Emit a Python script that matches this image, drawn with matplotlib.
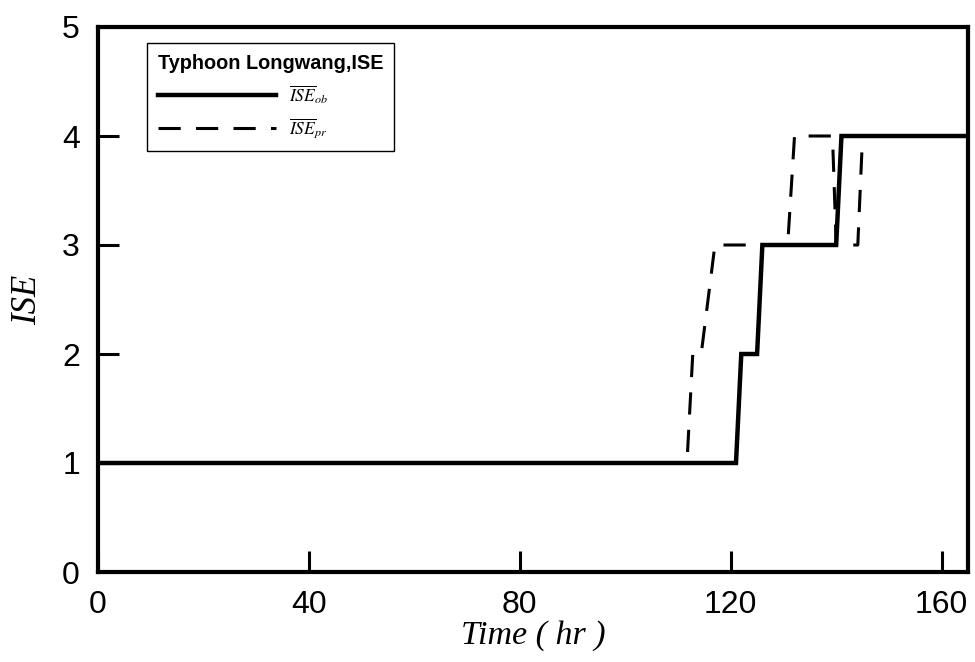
import matplotlib
matplotlib.use("Agg")
import matplotlib.pyplot as plt

# Observed and predicted storm-surge index (ISE) during Typhoon Longwang
time_ob = [0, 121, 122, 125, 126, 140, 141, 165]
ise_ob = [1, 1, 2, 2, 3, 3, 4, 4]

time_pr = [0, 111.7, 112.8, 114.4, 117, 130.8, 132.1, 139.3, 140, 144.1, 145, 165]
ise_pr = [1, 1, 2, 2, 3, 3, 4, 4, 3, 3, 4, 4]

x_ticks = [0, 40, 80, 120, 160]
y_ticks = [0, 1, 2, 3, 4, 5]

legend_title = "Typhoon Longwang,ISE"
label_ob = r"$\overline{ISE}_{ob}$"
label_pr = r"$\overline{ISE}_{pr}$"

plt.rcParams["font.family"] = ["Liberation Sans", "DejaVu Sans"]
plt.rcParams["mathtext.fontset"] = "stix"
plt.rcParams["lines.scale_dashes"] = False

fig = plt.figure(figsize=(9.75, 6.62), dpi=100)
ax = fig.add_axes([98 / 975, 90 / 662, 870 / 975, 545 / 662])

ax.plot(time_pr, ise_pr, color="black", lw=2.2, dashes=(16, 11),
        solid_capstyle="butt", label=label_pr, zorder=2)
ax.plot(time_ob, ise_ob, color="black", lw=3.2, solid_joinstyle="miter",
        label=label_ob, zorder=3)

ax.set_xlim(0, 165)
ax.set_ylim(0, 5)
ax.set_xticks(x_ticks)
ax.set_yticks(y_ticks)

for side in ax.spines.values():
    side.set_linewidth(3)
    side.set_color("black")

ax.tick_params(axis="both", direction="in", length=15, width=2.2,
               colors="black", labelsize=23)
ax.tick_params(axis="x", pad=13)
ax.tick_params(axis="y", pad=13)

ax.set_xlabel("Time ( hr )", family="Liberation Serif", style="italic",
              fontsize=24.5, labelpad=0)
ax.set_ylabel("ISE", family="Liberation Serif", style="italic",
              fontsize=25, labelpad=13)

handles, labels = ax.get_legend_handles_labels()
order = [1, 0]
leg = ax.legend([handles[i] for i in order], [labels[i] for i in order],
                title=legend_title, loc="upper left",
                bbox_to_anchor=((147 - 98) / 870, (572 - 43) / 545),
                borderaxespad=0, fontsize=12.5, handlelength=6.8,
                handletextpad=0.75, labelspacing=0.6, borderpad=0.62,
                fancybox=False, framealpha=1, edgecolor="black",
                alignment="left",
                title_fontproperties={"family": "Liberation Sans",
                                      "weight": "bold", "size": 14.3})
leg.get_frame().set_linewidth(1.0)

fig.savefig("out.png", dpi=100, facecolor="white")
